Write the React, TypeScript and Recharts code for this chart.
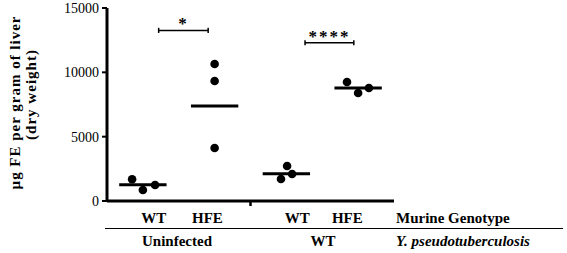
import {
  ScatterChart,
  Scatter,
  XAxis,
  YAxis,
  ReferenceLine,
} from "recharts";

// group order on the x axis: Uninfected WT, Uninfected HFE, Y.p. WT, Y.p. HFE
const GROUP_CENTERS = [0.5, 1.5, 2.5, 3.5];
const GENOTYPE_LABELS = ["WT", "HFE", "WT", "HFE"];
const LABEL_POS = [0.65, 1.4, 2.65, 3.35];

// µg Fe per gram of liver, three mice per group
const uninfectedWT = [1690, 855, 1240];
const uninfectedHFE = [10650, 9330, 4120];
const infectedWT = [1710, 2720, 2100];
const infectedHFE = [9250, 8390, 8780];

// horizontal jitter of each point within its group
const jitterUninfectedWT = [-0.15, 0, 0.17];
const jitterUninfectedHFE = [0, 0, 0];
const jitterInfectedWT = [-0.075, 0.01, 0.08];
const jitterInfectedHFE = [-0.155, 0, 0.15];

const groupMeans = [1270, 7380, 2120, 8780];

// significance brackets: [from, to, height, label]
const brackets: [number, number, number, string][] = [
  [0.72, 1.41, 13260, "*"],
  [2.76, 3.44, 12300, "****"],
];

const FONT = "Liberation Serif, serif";

const build = (values: number[], jitter: number[], g: number) =>
  values.map((v, i) => ({ x: GROUP_CENTERS[g] + jitter[i], y: v }));

const series = [
  build(uninfectedWT, jitterUninfectedWT, 0),
  build(uninfectedHFE, jitterUninfectedHFE, 1),
  build(infectedWT, jitterInfectedWT, 2),
  build(infectedHFE, jitterInfectedHFE, 3),
];

const Dot = (props: any) => (
  <circle cx={props.cx} cy={props.cy} r={4.3} fill="#000" />
);

const GenotypeTick = (props: any) => {
  const { x, y, payload } = props;
  if (payload.value === 2) {
    return <line x1={x} x2={x} y1={y} y2={y + 5} stroke="#000" strokeWidth={2.5} />;
  }
  const idx = LABEL_POS.indexOf(payload.value);
  return (
    <text x={x} y={y + 22} textAnchor="middle" fontSize={15} fontWeight="bold" fill="#000" fontFamily={FONT}>
      {GENOTYPE_LABELS[idx]}
    </text>
  );
};

export default function App() {
  return (
    <div style={{ position: "relative", width: 567, height: 253, fontFamily: FONT, background: "#fff" }}>
      <style>{`body{margin:0}`}</style>
      <ScatterChart width={567} height={253} margin={{ top: 8, right: 173, bottom: 0, left: 0 }}>
        <XAxis
          type="number"
          dataKey="x"
          domain={[0, 4]}
          ticks={[...LABEL_POS.slice(0, 2), 2, ...LABEL_POS.slice(2)]}
          interval={0}
          height={52}
          tickSize={0}
          tickMargin={0}
          tickLine={false}
          axisLine={{ stroke: "#000", strokeWidth: 3 }}
          tick={<GenotypeTick />}
        />
        <YAxis
          type="number"
          dataKey="y"
          domain={[0, 15000]}
          ticks={[0, 5000, 10000, 15000]}
          interval={0}
          width={107}
          tickSize={5}
          tickMargin={3}
          axisLine={{ stroke: "#000", strokeWidth: 3 }}
          tickLine={{ stroke: "#000", strokeWidth: 2 }}
          tick={{ fontSize: 14, fill: "#000", fontFamily: FONT }}
        />
        {groupMeans.map((m, i) => (
          <ReferenceLine
            key={"mean" + i}
            segment={[
              { x: GROUP_CENTERS[i] - 0.33, y: m },
              { x: GROUP_CENTERS[i] + 0.33, y: m },
            ]}
            stroke="#000"
            strokeWidth={3}
          />
        ))}
        {brackets.map(([a, b, h, lab], i) => (
          <ReferenceLine
            key={"br" + i}
            segment={[
              { x: a, y: h },
              { x: b, y: h },
            ]}
            stroke="#000"
            strokeWidth={1.5}
            label={{ value: lab, position: "top", fontSize: 17, fontWeight: "bold", fill: "#000", letterSpacing: 2, offset: 1, fontFamily: FONT }}
          />
        ))}
        {brackets.flatMap(([a, b, h], i) =>
          [a, b].map((x, j) => (
            <ReferenceLine
              key={"cap" + i + j}
              segment={[
                { x, y: h - 200 },
                { x, y: h + 200 },
              ]}
              stroke="#000"
              strokeWidth={1.5}
            />
          ))
        )}
        {series.map((d, i) => (
          <Scatter key={i} data={d} shape={<Dot />} isAnimationActive={false} />
        ))}
      </ScatterChart>
      <svg
        width={567}
        height={253}
        style={{ position: "absolute", left: 0, top: 0, pointerEvents: "none", fontFamily: FONT }}
      >
        <text
          transform="translate(15,103) rotate(-90)"
          textAnchor="middle"
          dominantBaseline="central"
          fontSize={15}
          fontWeight="bold"
          textLength={173}
          lengthAdjust="spacing"
        >
          µg FE per gram of liver
        </text>
        <text
          transform="translate(31,95) rotate(-90)"
          textAnchor="middle"
          dominantBaseline="central"
          fontSize={15}
          fontWeight="bold"
          textLength={90}
          lengthAdjust="spacing"
        >
          (dry weight)
        </text>
        <line x1={105} x2={563} y1={228.5} y2={228.5} stroke="#000" strokeWidth={1} />
        <text x={396} y={223} fontSize={15} fontWeight="bold">
          Murine Genotype
        </text>
        <text x={177} y={246} fontSize={15} fontWeight="bold" textAnchor="middle">
          Uninfected
        </text>
        <text x={323} y={246} fontSize={15} fontWeight="bold" textAnchor="middle">
          WT
        </text>
        <text x={396} y={246} fontSize={15} fontWeight="bold" fontStyle="italic">
          Y. pseudotuberculosis
        </text>
      </svg>
    </div>
  );
}
